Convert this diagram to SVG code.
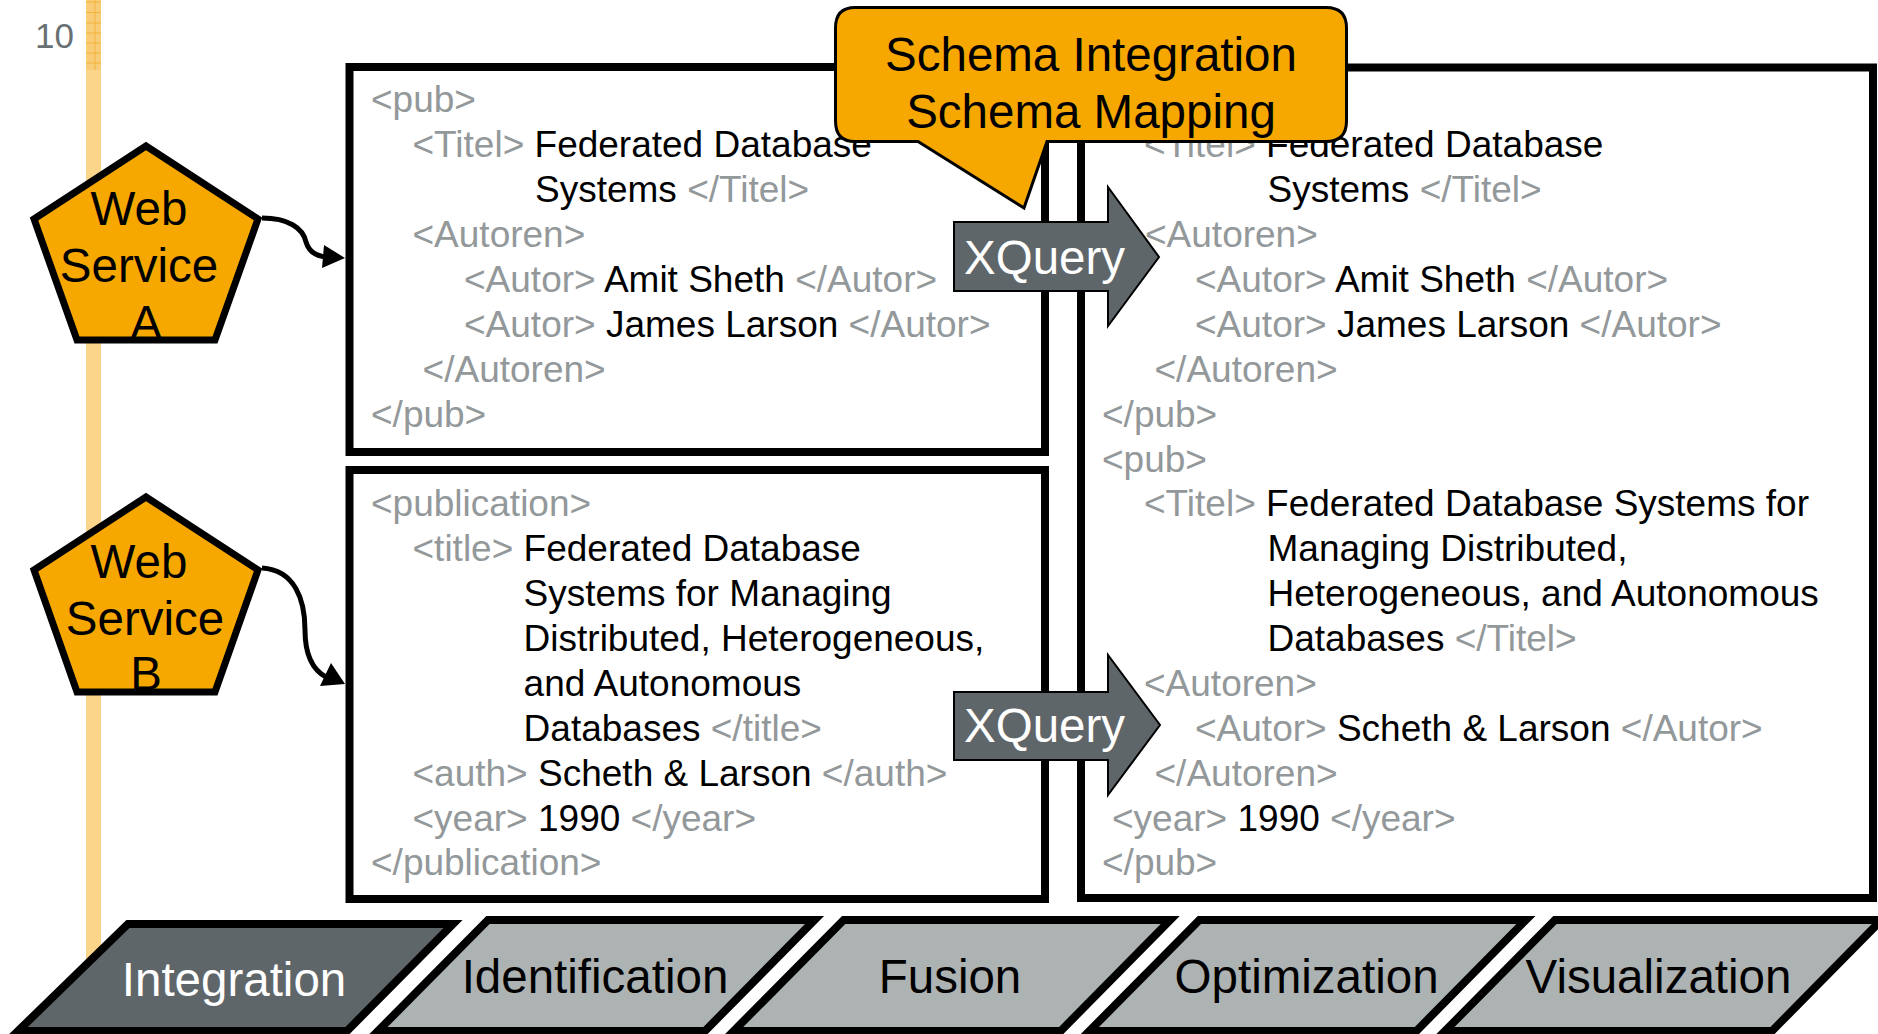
<svg xmlns="http://www.w3.org/2000/svg" width="1878" height="1034" viewBox="0 0 1878 1034">
<style>
text{font-family:"Liberation Sans",Arial,Helvetica,sans-serif}
.x{font-size:37px;fill:#000}
.g{fill:#93989a}
.box{fill:#fff;stroke:#000;stroke-width:8}
.pent{fill:#f7a800;stroke:#000;stroke-width:7;stroke-linejoin:miter}
.pt{font-size:47.5px;fill:#000;text-anchor:middle}
.xq{fill:#5f6669;stroke:#000;stroke-width:2}
.xqt{font-size:47.5px;fill:#fff}
.tab{stroke:#000;stroke-width:8;stroke-linejoin:miter}
.tabt{font-size:47.5px;text-anchor:middle}
.con{fill:none;stroke:#000;stroke-width:5}
</style>
<rect width="1878" height="1034" fill="#fff"/>
<g id="page-margin">
<rect x="86" y="0" width="15" height="1034" fill="#fbd58a"/>
<rect x="86" y="0" width="15" height="70" fill="#f9cd78"/>
<g stroke="#f4b43a" stroke-width="1">
<line x1="86" y1="2" x2="101" y2="2"/><line x1="86" y1="12.5" x2="101" y2="12.5"/><line x1="86" y1="23" x2="101" y2="23"/><line x1="86" y1="33" x2="101" y2="33"/><line x1="86" y1="43" x2="101" y2="43"/><line x1="86" y1="53" x2="101" y2="53"/><line x1="86" y1="63" x2="101" y2="63"/><line x1="95" y1="0" x2="95" y2="70"/>
</g>
<text x="35" y="48" font-size="35" fill="#697073">10</text>
</g>
<g id="node-xml-a">
<rect class="box" x="349.5" y="67" width="695.5" height="385"/>
<text class="x" x="371" y="112"><tspan class="g">&lt;pub&gt;</tspan></text>
<text class="x" x="412.5" y="157"><tspan class="g">&lt;Titel&gt; </tspan>Federated Database</text>
<text class="x" x="535" y="202">Systems<tspan class="g"> &lt;/Titel&gt;</tspan></text>
<text class="x" x="412.5" y="247"><tspan class="g">&lt;Autoren&gt;</tspan></text>
<text class="x" x="464" y="292"><tspan class="g">&lt;Autor&gt; </tspan>Amit Sheth<tspan class="g"> &lt;/Autor&gt;</tspan></text>
<text class="x" x="464" y="337"><tspan class="g">&lt;Autor&gt; </tspan>James Larson<tspan class="g"> &lt;/Autor&gt;</tspan></text>
<text class="x" x="422.6" y="382"><tspan class="g">&lt;/Autoren&gt;</tspan></text>
<text class="x" x="371" y="427"><tspan class="g">&lt;/pub&gt;</tspan></text>
</g>
<g id="node-xml-b">
<rect class="box" x="349.5" y="470" width="695.5" height="429"/>
<text class="x" x="371" y="516"><tspan class="g">&lt;publication&gt;</tspan></text>
<text class="x" x="412.5" y="561"><tspan class="g">&lt;title&gt; </tspan>Federated Database</text>
<text class="x" x="523.6" y="606">Systems for Managing</text>
<text class="x" x="523.6" y="651">Distributed, Heterogeneous,</text>
<text class="x" x="523.6" y="696">and Autonomous</text>
<text class="x" x="523.6" y="741">Databases<tspan class="g"> &lt;/title&gt;</tspan></text>
<text class="x" x="412.5" y="786"><tspan class="g">&lt;auth&gt; </tspan>Scheth &amp; Larson<tspan class="g"> &lt;/auth&gt;</tspan></text>
<text class="x" x="412.5" y="831"><tspan class="g">&lt;year&gt; </tspan>1990<tspan class="g"> &lt;/year&gt;</tspan></text>
<text class="x" x="371" y="875"><tspan class="g">&lt;/publication&gt;</tspan></text>
</g>
<g id="node-xml-target">
<rect class="box" x="1081" y="67.5" width="792" height="830.5"/>
<text class="x" x="1144" y="157"><tspan class="g">&lt;Titel&gt; </tspan>Federated Database</text>
<text class="x" x="1267.5" y="202">Systems<tspan class="g"> &lt;/Titel&gt;</tspan></text>
<text class="x" x="1145" y="247"><tspan class="g">&lt;Autoren&gt;</tspan></text>
<text class="x" x="1195" y="292"><tspan class="g">&lt;Autor&gt; </tspan>Amit Sheth<tspan class="g"> &lt;/Autor&gt;</tspan></text>
<text class="x" x="1195" y="337"><tspan class="g">&lt;Autor&gt; </tspan>James Larson<tspan class="g"> &lt;/Autor&gt;</tspan></text>
<text class="x" x="1154.5" y="382"><tspan class="g">&lt;/Autoren&gt;</tspan></text>
<text class="x" x="1102" y="427"><tspan class="g">&lt;/pub&gt;</tspan></text>
<text class="x" x="1102" y="472"><tspan class="g">&lt;pub&gt;</tspan></text>
<text class="x" x="1144" y="516"><tspan class="g">&lt;Titel&gt; </tspan>Federated Database Systems for</text>
<text class="x" x="1267.5" y="561">Managing Distributed,</text>
<text class="x" x="1267.5" y="606">Heterogeneous, and Autonomous</text>
<text class="x" x="1267.5" y="651">Databases<tspan class="g"> &lt;/Titel&gt;</tspan></text>
<text class="x" x="1144" y="696"><tspan class="g">&lt;Autoren&gt;</tspan></text>
<text class="x" x="1195" y="741"><tspan class="g">&lt;Autor&gt; </tspan>Scheth &amp; Larson<tspan class="g"> &lt;/Autor&gt;</tspan></text>
<text class="x" x="1154.5" y="786"><tspan class="g">&lt;/Autoren&gt;</tspan></text>
<text class="x" x="1112" y="831"><tspan class="g">&lt;year&gt; </tspan>1990<tspan class="g"> &lt;/year&gt;</tspan></text>
<text class="x" x="1102" y="875"><tspan class="g">&lt;/pub&gt;</tspan></text>
</g>
<g id="node-ws-a">
<polygon class="pent" points="146,146 258,219 215,340 77,340 34,219"/>
<text class="pt" x="139" y="225">Web</text>
<text class="pt" x="139" y="282">Service</text>
<text class="pt" x="146" y="339">A</text>
</g>
<g id="node-ws-b">
<polygon class="pent" points="146,497 258,570 215,692 77,692 34,570"/>
<text class="pt" x="139" y="578">Web</text>
<text class="pt" x="145" y="635">Service</text>
<text class="pt" x="146" y="690">B</text>
</g>
<g id="connectors">
<path class="con" d="M262,218 C288,218 303,228 306,242 C309,252 316,256 326,257"/>
<polygon points="345,258 324,245 322,268" fill="#000"/>
<path class="con" d="M262,568 C295,570 305,600 305,630 C305,655 313,670 326,677"/>
<polygon points="345,684 331,663 320,686" fill="#000"/>
</g>
<g id="node-xquery-1">
<path class="xq" d="M954,222 H1108 V187 L1159,257 L1108,326 V291 H954 Z"/>
<text class="xqt" x="964" y="274">XQuery</text>
</g>
<g id="node-xquery-2">
<path class="xq" d="M954,692 H1108 V655 L1160,725 L1108,795 V760 H954 Z"/>
<text class="xqt" x="964" y="742">XQuery</text>
</g>
<g id="node-callout">
<path d="M855,7.5 H1326 Q1346.5,7.5 1346.5,28 V121 Q1346.5,141.5 1326,141.5 H1047 L1024,208 L918,141.5 H855 Q835.5,141.5 835.5,121 V28 Q835.5,7.5 855,7.5 Z" fill="#f7a800" stroke="#000" stroke-width="3" stroke-linejoin="miter"/>
<text x="1091" y="70.5" font-size="47.5" text-anchor="middle" fill="#000">Schema Integration</text>
<text x="1091" y="128" font-size="47.5" text-anchor="middle" fill="#000">Schema Mapping</text>
</g>
<g id="tab-integration">
<polygon class="tab" fill="#5f6669" points="128,924 453,924 347,1031 18,1031"/>
<text class="tabt" x="234" y="996" fill="#fff">Integration</text>
</g>
<g id="tab-identification">
<polygon class="tab" fill="#adb2b2" points="488,920 814.5,920 705,1031 378,1031"/>
<text class="tabt" x="595" y="993" fill="#000">Identification</text>
</g>
<g id="tab-fusion">
<polygon class="tab" fill="#adb2b2" points="843.7,920 1170.2,920 1060.7,1031 733.7,1031"/>
<text class="tabt" x="950" y="993" fill="#000">Fusion</text>
</g>
<g id="tab-optimization">
<polygon class="tab" fill="#adb2b2" points="1199.4,920 1525.9,920 1416.4,1031 1089.4,1031"/>
<text class="tabt" x="1306.6" y="993" fill="#000">Optimization</text>
</g>
<g id="tab-visualization">
<polygon class="tab" fill="#adb2b2" points="1555,920 1881.5,920 1772,1031 1445,1031"/>
<text class="tabt" x="1658.5" y="993" fill="#000">Visualization</text>
</g>
</svg>
